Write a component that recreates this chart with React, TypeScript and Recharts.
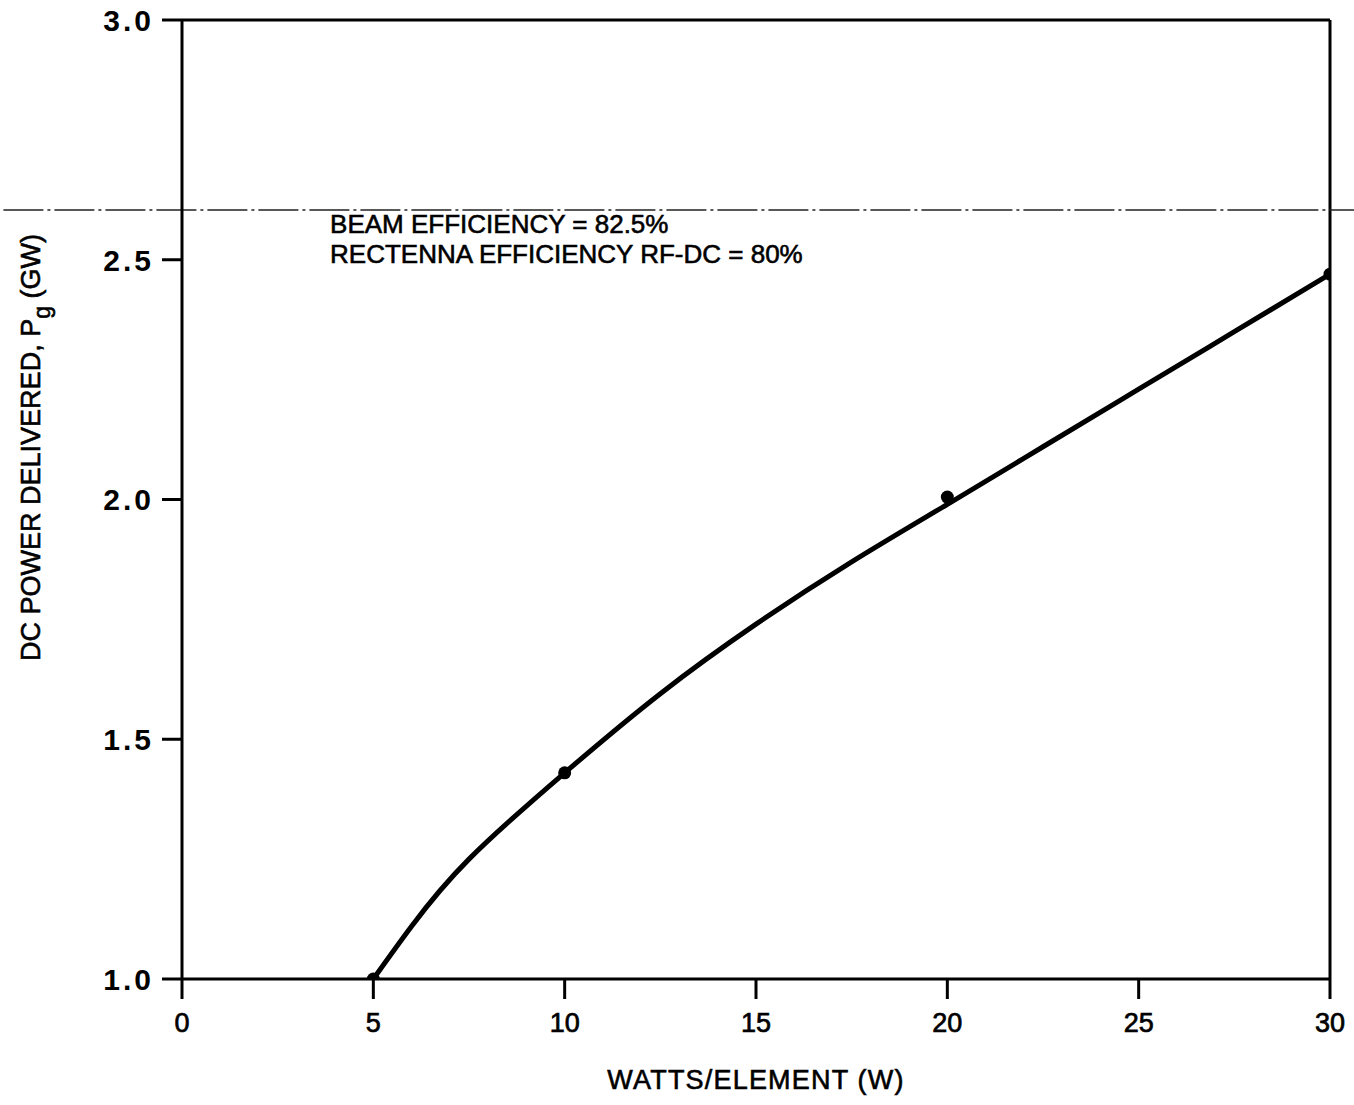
import React from "react";
import {
  ComposedChart,
  Line,
  Scatter,
  XAxis,
  YAxis,
  ReferenceLine,
  ReferenceDot,
} from "recharts";

// Smooth fitted curve
const curveX = [5, 6, 7.5, 10, 12.5, 15, 17.5, 20, 22.5, 25, 27.5, 30];
const curveY = [1.0, 1.11, 1.25, 1.43, 1.595, 1.74, 1.87, 1.99, 2.11, 2.23, 2.35, 2.47];

// Plotted data points
const pointX = [5, 10, 20, 30];
const pointY = [1.0, 1.43, 2.005, 2.47];

const xTicks = [0, 5, 10, 15, 20, 25, 30];
const yTicks = [1.0, 1.5, 2.0, 2.5, 3.0];

const dashedLevel = 2.604;
const noteLines = ["BEAM EFFICIENCY = 82.5%", "RECTENNA EFFICIENCY RF-DC = 80%"];
const noteAnchor = { x: 3.87, y: 2.556 };

const curveData = curveX.map((x, i) => ({ x, y: curveY[i] }));
const pointData = pointX.map((x, i) => ({ x, y: pointY[i] }));

const FONT = "'Liberation Sans', Arial, sans-serif";

const YTick = (props: any) => {
  const { x, y, payload } = props;
  return (
    <text
      x={x}
      y={y}
      dy="0.36em"
      textAnchor="end"
      fontFamily={FONT}
      fontSize={30}
      fontWeight="bold"
      letterSpacing={3}
      fill="#000"
    >
      {Number(payload.value).toFixed(1)}
    </text>
  );
};

const XTick = (props: any) => {
  const { x, y, payload } = props;
  return (
    <text
      x={x}
      y={y}
      dy="0.71em"
      textAnchor="middle"
      fontFamily={FONT}
      fontSize={27}
      fill="#000"
      stroke="#000"
      strokeWidth={0.7}
    >
      {payload.value}
    </text>
  );
};

const NoteLabel = (props: any) => {
  const vb = props.viewBox || {};
  const x = vb.x ?? 0;
  const y = vb.y ?? 0;
  return (
    <text
      x={x}
      y={y}
      fontFamily={FONT}
      fontSize={26}
      fill="#000"
      stroke="#000"
      strokeWidth={0.6}
    >
      {noteLines.map((t, i) => (
        <tspan key={i} x={x} dy={i === 0 ? 0 : 30}>
          {t}
        </tspan>
      ))}
    </text>
  );
};

const Dot = (props: any) => {
  const { cx, cy } = props;
  return <circle cx={cx} cy={cy} r={6.5} fill="#000" />;
};

export default function App() {
  return (
    <div style={{ width: 1354, height: 1105, position: "relative", background: "#fff" }}>
      <style>{"body{margin:0;background:#fff}"}</style>
      <ComposedChart
        width={1354}
        height={1105}
        margin={{ top: 20, right: 24, left: 122, bottom: 66 }}
      >
        <XAxis
          type="number"
          dataKey="x"
          domain={[0, 30]}
          ticks={xTicks}
          interval={0}
          allowDataOverflow
          height={60}
          axisLine={{ stroke: "#000", strokeWidth: 3 }}
          tickLine={{ stroke: "#000", strokeWidth: 3 }}
          tickSize={20}
          tickMargin={14}
          tick={<XTick />}
          label={{
            value: "WATTS/ELEMENT  (W)",
            position: "insideBottom",
            offset: -50,
            style: {
              fontFamily: FONT,
              fontSize: 27,
              fill: "#000",
              stroke: "#000",
              strokeWidth: 0.6,
              letterSpacing: 1.2,
            },
          }}
        />
        <YAxis
          type="number"
          dataKey="y"
          domain={[1, 3]}
          ticks={yTicks}
          interval={0}
          allowDataOverflow
          width={60}
          axisLine={{ stroke: "#000", strokeWidth: 3 }}
          tickLine={{ stroke: "#000", strokeWidth: 3 }}
          tickSize={20}
          tickMargin={8}
          tick={<YTick />}
          label={(p: any) => {
            const vb = p.viewBox || {};
            const cy = (vb.y ?? 0) + (vb.height ?? 0) / 2 - 52;
            const cx = 40;
            return (
              <text
                x={cx}
                y={cy}
                transform={`rotate(-90, ${cx}, ${cy})`}
                textAnchor="middle"
                fontFamily={FONT}
                fontSize={27}
                fill="#000"
                stroke="#000"
                strokeWidth={0.6}
              >
                DC POWER DELIVERED, P
                <tspan fontSize={23} dy={10}>g</tspan>
                <tspan dy={-10}> (GW)</tspan>
              </text>
            );
          }}
        />
        <ReferenceLine y={3} stroke="#000" strokeWidth={3} ifOverflow="visible" />
        <ReferenceLine x={30} stroke="#000" strokeWidth={3} ifOverflow="visible" />
        <ReferenceLine
          segment={[
            { x: -6, y: dashedLevel },
            { x: 31, y: dashedLevel },
          ]}
          stroke="#222"
          strokeWidth={1.5}
          strokeDasharray="40 4 3 4"
          ifOverflow="visible"
        />
        <ReferenceDot
          x={noteAnchor.x}
          y={noteAnchor.y}
          r={0}
          fill="none"
          stroke="none"
          ifOverflow="visible"
          label={<NoteLabel />}
        />
        <Line
          data={curveData}
          dataKey="y"
          type="natural"
          stroke="#000"
          strokeWidth={5}
          dot={false}
          activeDot={false}
          isAnimationActive={false}
        />
        <Scatter
          data={pointData}
          dataKey="y"
          fill="#000"
          shape={<Dot />}
          isAnimationActive={false}
        />
      </ComposedChart>
    </div>
  );
}
